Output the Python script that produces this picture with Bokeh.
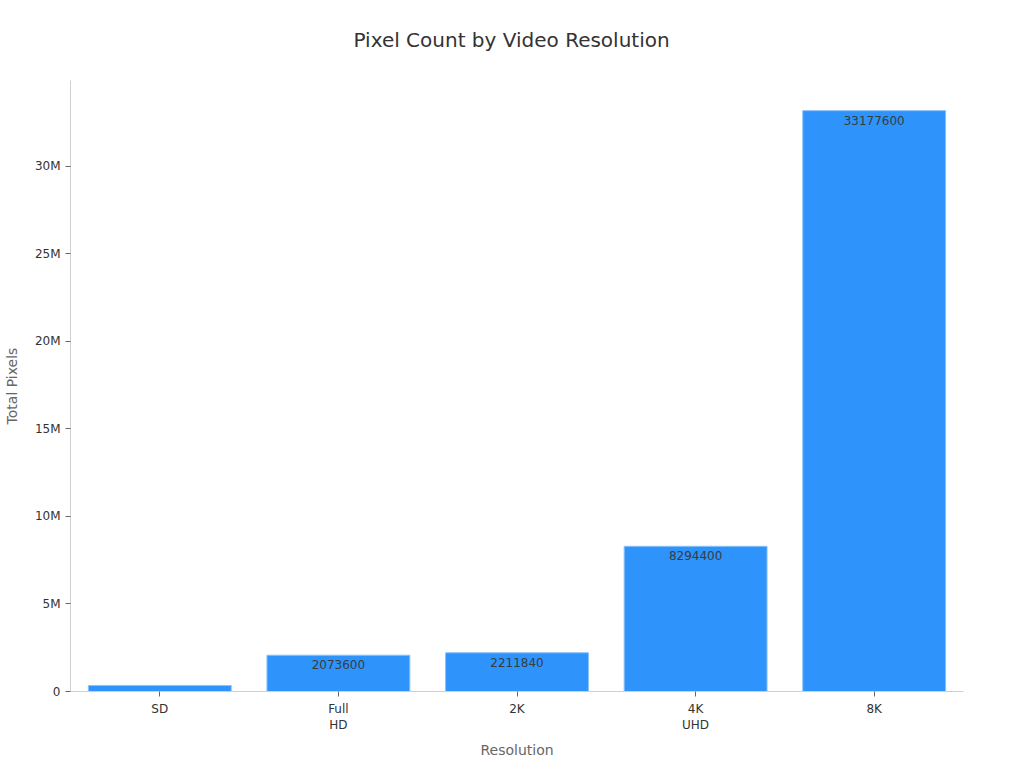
from bokeh.plotting import figure
from bokeh.models import ColumnDataSource, FixedTicker, CustomJSTickFormatter, Range1d
from bokeh.core.properties import value
from bokeh.embed import file_html
from bokeh.resources import INLINE

categories = ["SD", "Full\nHD", "2K", "4K\nUHD", "8K"]
pixels = [345600, 2073600, 2211840, 8294400, 33177600]
labels = ["", "2073600", "2211840", "8294400", "33177600"]
y_ticks = [0, 5000000, 10000000, 15000000, 20000000, 25000000, 30000000]

FONT = "DejaVu Sans"

src = ColumnDataSource(dict(cat=categories, val=pixels, lab=labels))

p = figure(x_range=categories, y_range=Range1d(0, 34900000),
           frame_width=893, frame_height=611,
           min_border_left=69, min_border_right=40, min_border_top=80, min_border_bottom=62,
           output_backend="svg", toolbar_location=None,
           title="Pixel Count by Video Resolution")

p.title.align = "left"
p.title.vertical_align = "top"
p.title.text_font = FONT
p.title.text_font_size = "20px"
p.title.text_font_style = "normal"
p.title.text_color = "#333333"
p.title.offset = 283
p.title.standoff = 54

p.vbar(x="cat", top="val", width=0.8, source=src,
       fill_color="#2E93FA", line_color="#8CC2F8", line_width=1)

p.text(x="cat", y="val", text="lab", source=src,
       text_align="center", text_baseline="top", y_offset=5,
       text_font=value(FONT), text_font_size="12px", text_color="#373D3F")

p.xgrid.visible = False
p.ygrid.visible = False
p.outline_line_color = None

for ax in (p.xaxis[0], p.yaxis[0]):
    ax.axis_line_color = "#D0D0D0"
    ax.major_tick_line_color = "#666666"
    ax.minor_tick_line_color = None
    ax.major_label_text_font = FONT
    ax.major_label_text_font_size = "12px"
    ax.major_label_text_color = "#333333"
    ax.axis_label_text_font = FONT
    ax.axis_label_text_font_size = "14px"
    ax.axis_label_text_font_style = "normal"
    ax.axis_label_text_color = "#666666"
    ax.major_tick_out = 5
    ax.major_tick_in = 0

p.xaxis.axis_label = "Resolution"
p.yaxis.axis_label = "Total Pixels"
p.yaxis.axis_label_standoff = 12
p.xaxis.axis_label_standoff = 7
p.yaxis.ticker = FixedTicker(ticks=y_ticks)
p.yaxis.formatter = CustomJSTickFormatter(code="return tick == 0 ? '0' : (tick/1e6) + 'M';")
p.x_range.range_padding = 0

open("out.html", "w").write(file_html(p, INLINE))
